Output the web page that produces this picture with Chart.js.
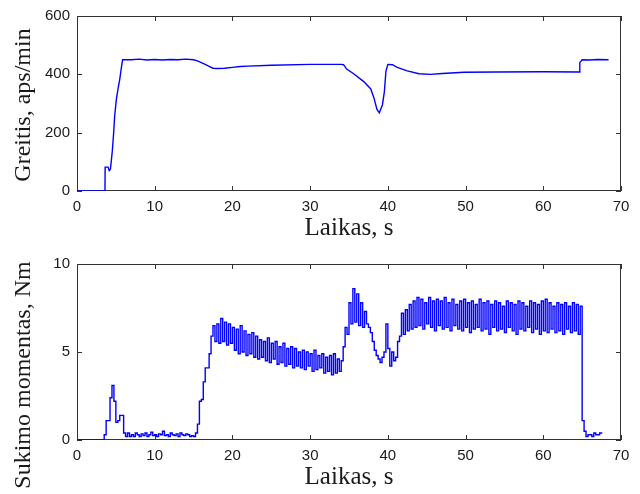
<!DOCTYPE html>
<html>
<head>
<meta charset="utf-8">
<script src="https://cdn.jsdelivr.net/npm/chart.js@4.4.1/dist/chart.umd.min.js"></script>
<style>
body { margin: 0; background: #fff; }
canvas { position: absolute; left: 0; }
#chartSpeed { top: 0; }
#chartTorque { top: 247px; }
</style>
</head>
<body>
<canvas id="chartSpeed" width="640" height="247"></canvas>
<canvas id="chartTorque" width="640" height="247"></canvas>
<script>
// speed, aps/min
var speedTime = [0, 3.6, 3.62, 4.0, 4.15, 4.3, 4.4, 4.55, 4.72, 4.85,
    5.07, 5.3, 5.5, 5.7, 5.87, 7, 8, 9, 10, 11,
    12, 13, 14, 15, 15.5, 16, 16.5, 17, 17.5, 18,
    19, 20, 21, 22, 25, 30, 34, 34.3, 34.7, 35.6,
    36.9, 37.8, 38.2, 38.6, 38.9, 39.3, 39.55, 39.75, 40.0, 40.6,
    41.2, 42.5, 44, 45.5, 47, 49.8, 54, 60, 64.6, 64.7,
    65, 66, 67, 68.4];
var speedValue = [0, 0, 82, 82, 70, 75, 100, 139, 201, 258,
    315, 354, 383, 421, 450, 450, 452, 449, 451, 449,
    451, 450, 452, 450, 446, 440, 434, 427, 421, 420,
    421, 424, 427, 428, 431, 434, 434, 433, 418, 402,
    375, 350, 320, 280, 268, 295, 340, 410, 434, 433,
    424, 412, 402, 400, 403, 407, 408, 409, 408, 440,
    450, 449, 451, 450];

// torque, Nm - one sample every 0.25 s starting at t = 0 (4 per row = 1 s)
var torqueStart = 0;
var torqueStep = 0.25;
var torqueValue = [
    0, 0, 0, 0,  0, 0, 0, 0,  0, 0, 0, 0,  0, 0, 0.3, 1.1,          // 0 - 3.75
    1.1, 2.4, 3.1, 2.2,  1.0, 1.1, 1.4, 1.4,  0.4, 0.2, 0.4, 0.2,   // 4 - 6.75
    0.3, 0.2, 0.4, 0.3,  0.2, 0.35, 0.25, 0.4,  0.2, 0.3, 0.45, 0.25,
    0.3, 0.2, 0.35, 0.3,  0.5, 0.25, 0.3, 0.2,  0.4, 0.3, 0.25, 0.35,
    0.2, 0.4, 0.3, 0.25,  0.35, 0.3, 0.2, 0.25,  0.2, 0.4, 0.9, 2.2,  // 13 - 15.75
    2.3, 3.3, 4.1, 4.1,  4.9, 5.9, 6.5, 5.6,                        // 16 - 17.75
    6.6, 5.5, 6.9, 5.6,  6.7, 5.4, 6.6, 5.5,                        // 18 - 19.75
    6.4, 5.1, 6.3, 4.9,  6.5, 5.0, 6.2, 4.8,  6.0, 4.9, 6.1, 4.7,
    5.9, 4.6, 5.7, 4.7,  5.6, 4.5, 5.8, 4.4,  5.5, 4.6, 5.6, 4.3,
    5.3, 4.4, 5.5, 4.2,  5.2, 4.3, 5.3, 4.1,  5.2, 4.2, 5.0, 4.1,
    5.1, 4.0, 5.0, 4.2,  4.9, 3.9, 5.1, 4.0,  4.8, 4.1, 4.9, 3.8,
    4.7, 3.9, 4.8, 3.7,  4.9, 3.8, 4.6, 3.9,  4.5, 5.3, 6.4, 6.0,  // 32 - 34.75
    7.8, 6.6, 8.6, 6.7,  8.3, 6.5, 7.8, 6.4,  7.3, 6.6, 6.4, 6.1,
    5.6, 5.1, 4.8, 4.6,  4.4, 4.7, 5.0, 6.6,  5.2, 4.2, 5.0, 4.5,   // 38 - 40.75
    4.7, 5.6, 5.9, 7.2,  6.0, 7.4, 6.2, 7.7,  6.3, 7.9, 6.4, 8.1,   // 41 - 43.75
    6.5, 8.0, 6.3, 7.8,  6.6, 8.1, 6.4, 7.9,  6.2, 8.0, 6.5, 7.9,
    6.3, 8.1, 6.4, 7.8,  6.2, 8.0, 6.5, 7.7,  6.3, 7.9, 6.2, 8.0,
    6.4, 7.8, 6.1, 7.9,  6.3, 7.7, 6.4, 8.0,  6.2, 7.8, 6.3, 7.9,
    6.0, 7.7, 6.4, 7.9,  6.2, 7.8, 6.3, 7.6,  6.1, 7.9, 6.4, 7.8,
    6.2, 7.7, 6.0, 7.9,  6.3, 7.8, 6.2, 7.6,  6.4, 7.9, 6.1, 7.8,
    6.3, 7.7, 6.0, 7.9,  6.2, 8.0, 6.1, 7.8,  6.3, 7.6, 6.1, 7.8,
    6.2, 7.7, 6.0, 7.8,  6.3, 7.6, 6.1, 7.8,  6.2, 7.7, 6.0, 7.6,   // 62 - 64.75
    1.1, 0.5, 0.2, 0.3,  0.3, 0.2, 0.4, 0.3,  0.3, 0.4, 0.35        // 65 - 67.5
];

var xMax = 70, xStep = 10;
var speedMax = 600, speedStep = 200;
var torqueMax = 10, torqueTickStep = 5;

var axisColor = '#333';
var textColor = '#1a1a1a';

// MATLAB style box with inward ticks on all four sides
var boxTicks = {
    id: 'boxTicks',
    beforeDatasetsDraw: function (chart) {
        var ctx = chart.ctx, a = chart.chartArea;
        var xs = chart.scales.x, ys = chart.scales.y;
        var len = 5;
        ctx.save();
        ctx.strokeStyle = axisColor;
        ctx.lineWidth = 1;
        ctx.strokeRect(a.left + 0.5, a.top + 0.5, a.right - a.left - 1, a.bottom - a.top - 1);
        ctx.beginPath();
        xs.ticks.forEach(function (t) {
            var px = Math.round(xs.getPixelForValue(t.value)) + 0.5;
            ctx.moveTo(px, a.bottom); ctx.lineTo(px, a.bottom - len);
            ctx.moveTo(px, a.top); ctx.lineTo(px, a.top + len);
        });
        ys.ticks.forEach(function (t) {
            var py = Math.round(ys.getPixelForValue(t.value)) + 0.5;
            ctx.moveTo(a.left, py); ctx.lineTo(a.left + len, py);
            ctx.moveTo(a.right, py); ctx.lineTo(a.right - len, py);
        });
        ctx.stroke();
        ctx.restore();
    }
};

// y label drawn by hand: the lower one is longer than its axis and sits off-centre
var yLabel = {
    id: 'yLabel',
    afterDraw: function (chart, args, opts) {
        var ctx = chart.ctx;
        ctx.save();
        ctx.translate(opts.x, opts.y);
        ctx.rotate(-Math.PI / 2);
        ctx.font = '24px "Liberation Serif"';
        ctx.fillStyle = textColor;
        ctx.textAlign = 'center';
        ctx.textBaseline = 'middle';
        ctx.fillText(opts.text, 0, 0);
        ctx.restore();
    }
};

function makePoints(times, values) {
    return values.map(function (v, i) {
        return { x: times[i], y: v };
    });
}

function BuildChart(canvasId, points, yMax, yStep, yTitle, yTitleCenter, areaTop, xHeight, titleGap, stepped) {
    var ctx = document.getElementById(canvasId).getContext('2d');
    return new Chart(ctx, {
        type: 'line',
        data: {
            datasets: [{
                data: points,
                borderColor: '#0000ff',
                borderWidth: 1.4,
                pointRadius: 0,
                fill: false,
                stepped: stepped,
                tension: 0
            }]
        },
        options: {
            responsive: false,
            animation: false,
            layout: { padding: { top: areaTop, right: 19, left: 0, bottom: 0 } },
            plugins: {
                legend: { display: false },
                tooltip: { enabled: false },
                yLabel: { text: yTitle, x: 24, y: yTitleCenter }
            },
            scales: {
                x: {
                    type: 'linear', min: 0, max: xMax,
                    grid: { display: false, drawTicks: false, tickLength: 0 },
                    border: { display: false },
                    ticks: { stepSize: xStep, padding: 7, color: textColor,
                        font: { family: 'Liberation Sans', size: 15 } },
                    title: { display: true, text: 'Laikas, s', color: textColor,
                        padding: { top: 0, bottom: titleGap },
                        font: { family: 'Liberation Serif', size: 25 } },
                    afterFit: function (scale) { scale.height = xHeight; }
                },
                y: {
                    min: 0, max: yMax,
                    grid: { display: false, drawTicks: false, tickLength: 0 },
                    border: { display: false },
                    ticks: { stepSize: yStep, padding: 7, color: textColor,
                        font: { family: 'Liberation Sans', size: 15 } },
                    afterFit: function (scale) { scale.width = 77; }
                }
            }
        },
        plugins: [boxTicks, yLabel]
    });
}

var torqueTime = torqueValue.map(function (v, i) { return torqueStart + i * torqueStep; });

var speedChart = BuildChart('chartSpeed', makePoints(speedTime, speedValue),
    speedMax, speedStep, 'Greitis, aps/min', 105, 14, 56, 4, false);
var torqueChart = BuildChart('chartTorque', makePoints(torqueTime, torqueValue),
    torqueMax, torqueTickStep, 'Sukimo momentas, Nm', 128, 17, 54, 2, true);
</script>
</body>
</html>
